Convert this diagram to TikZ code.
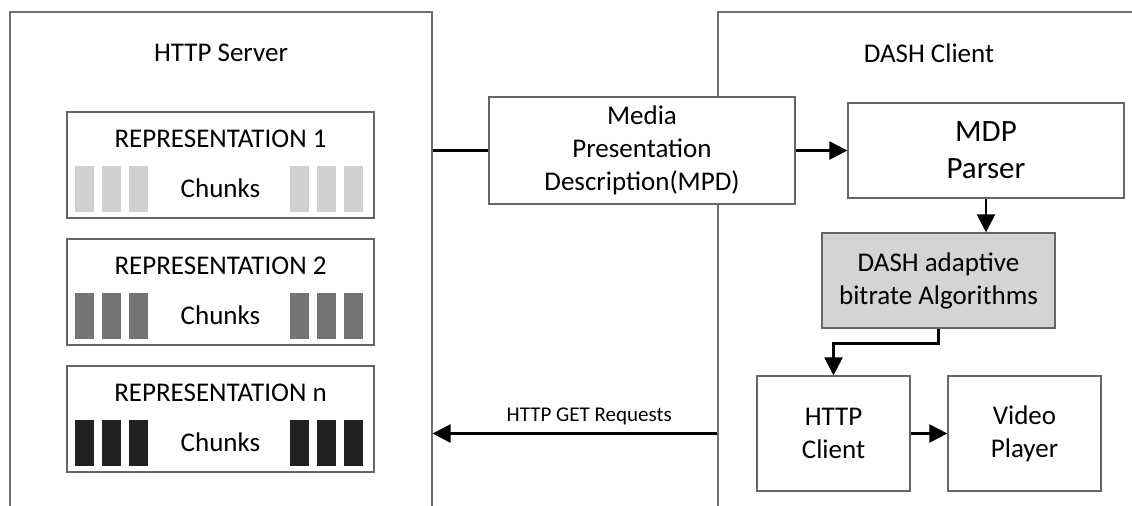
\documentclass[tikz,border=0pt]{standalone}
\usepackage{fontspec}
\setmainfont{Carlito}
\usepackage{xcolor}
\usepackage{tikz}
\usetikzlibrary{arrows.meta}
\definecolor{framecolor}{HTML}{707070}
\definecolor{boxcolor}{HTML}{666666}
\definecolor{chunklight}{HTML}{D0D0D0}
\definecolor{chunkmid}{HTML}{737475}
\definecolor{chunkdark}{HTML}{1E2022}
\definecolor{algocolor}{HTML}{D4D4D4}
\tikzset{
  frame/.style={draw=framecolor, line width=0.7pt, rectangle, minimum height=10.2cm},
  box/.style={draw=boxcolor, line width=0.8pt, fill=white, rectangle, align=center, font=\fontsize{0.54cm}{0.66cm}\selectfont},
  label text/.style={font=\fontsize{0.54cm}{0.66cm}\selectfont},
  chunk/.style={rectangle, minimum width=0.38cm, minimum height=0.92cm, inner sep=0pt},
  link/.style={line width=1.4pt, -{Triangle[length=0.36cm,width=0.36cm]}},
}

\begin{document}
\begin{tikzpicture}[x=0.02cm, y=-0.02cm]%
\useasboundingbox (0,0) rectangle (1132,505);%
\clip (0,0) rectangle (1132,505);%
% the two sides
\node[frame, minimum width=8.44cm] (server) at (221,267) {};%
\node[frame, minimum width=8.56cm] (client) at (932,267) {};%
\node[label text] (servertitle) at (221,53) {HTTP Server};%
\node[label text] (clienttitle) at (929,53) {DASH Client};%
% representations on the server
\foreach \r/\yc/\col in {1/165/chunklight, 2/292/chunkmid, n/419/chunkdark} {%
  \node[box, minimum width=6.14cm, minimum height=2.12cm] (rep\r) at (220.5,\yc) {};%
  \node[label text] (reptitle\r) at (220.5,\yc-26) {REPRESENTATION \r};%
  \node[label text] (chunks\r) at (220.5,\yc+23) {Chunks};%
  \foreach \cx [count=\k] in {84.5,111.5,138,299.5,326,353}
    \node[chunk, fill=\col] (chunk\r-\k) at (\cx,\yc+24) {};%
}
% client side
\node[box, minimum width=6.12cm, minimum height=2.14cm] (mpd) at (642,150.5) {Media\\Presentation\\Description(MPD)};%
\node[box, minimum width=5.52cm, minimum height=1.9cm, font=\fontsize{0.62cm}{0.74cm}\selectfont] (parser) at (986,150.5) {MDP\\Parser};%
\node[box, minimum width=4.66cm, minimum height=1.9cm, fill=algocolor] (abr) at (938.5,280.5) {DASH adaptive\\bitrate Algorithms};%
\node[box, minimum width=3.06cm, minimum height=2.3cm] (hclient) at (833.5,433.5) {HTTP\\Client};%
\node[box, minimum width=3.06cm, minimum height=2.3cm] (player) at (1024.5,433.5) {Video\\Player};%
% connectors
\draw[line width=1.4pt] (server.east |- mpd.west) -- (mpd.west);%
\draw[link] (mpd.east) -- (parser.west);%
\draw[link] (parser.south) -- (parser.south |- abr.north);%
\draw[link] (abr.south) -- ++(0,15) -| (hclient.north);%
\draw[link] (hclient.east) -- (player.west);%
\draw[link] (client.west |- hclient) -- node[pos=0.45, above=1pt, font=\fontsize{0.42cm}{0.5cm}\selectfont] (getlabel) {HTTP GET Requests} (server.east |- hclient);%
\end{tikzpicture}
\end{document}
